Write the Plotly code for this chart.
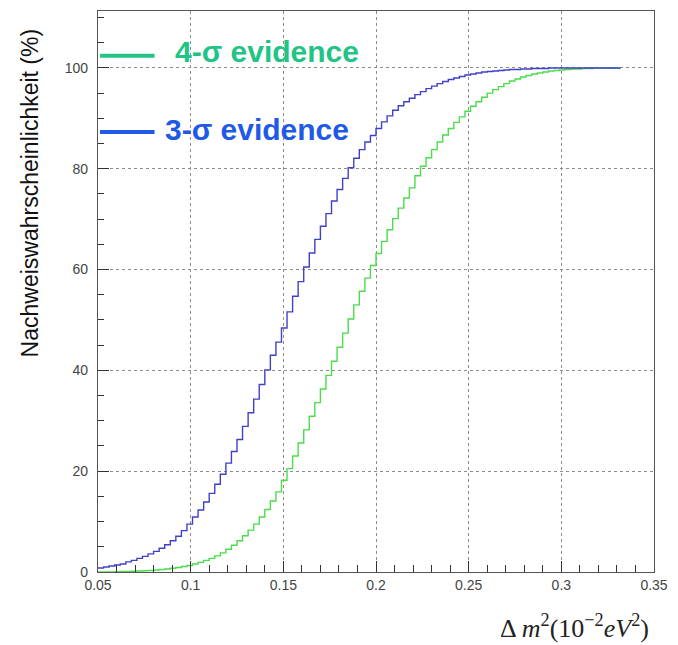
import numpy as np
import plotly.graph_objects as go

# Histogram binning (ROOT-style, 0.003 wide bins starting at 0.05)
x_start = 0.05
bin_width = 0.003

# Detection probability (%) per bin, 3-sigma evidence
prob_3sigma = [
    0.8, 1.0, 1.2, 1.4, 1.6, 2.0, 2.3, 2.7, 3.1, 3.6,
    4.1, 4.7, 5.4, 6.2, 7.1, 8.2, 9.5, 10.9, 12.3, 13.9,
    15.6, 17.4, 19.4, 21.6, 23.9, 26.3, 28.9, 31.6, 34.3, 37.2,
    40.1, 43.0, 45.6, 48.4, 51.6, 54.7, 57.6, 60.5, 63.3, 66.0,
    68.6, 71.1, 73.6, 75.9, 78.1, 80.2, 82.1, 83.8, 85.3, 86.6,
    88.0, 89.3, 90.5, 91.6, 92.5, 93.3, 94.0, 94.7, 95.3, 95.9,
    96.4, 96.9, 97.3, 97.7, 98.0, 98.3, 98.6, 98.8, 99.0, 99.2,
    99.3, 99.4, 99.5, 99.6, 99.7, 99.7, 99.8, 99.8, 99.9, 99.9,
    99.9, 100, 100, 100, 100, 100, 100, 100, 100, 100,
    100, 100, 100, 100,
]

# Detection probability (%) per bin, 4-sigma evidence
prob_4sigma = [
    0.0, 0.0, 0.0, 0.05, 0.1, 0.1, 0.15, 0.2, 0.25, 0.3,
    0.4, 0.5, 0.6, 0.75, 0.9, 1.1, 1.3, 1.6, 1.9, 2.3,
    2.7, 3.2, 3.8, 4.5, 5.3, 6.2, 7.2, 8.3, 9.5, 10.9,
    12.4, 14.1, 15.9, 18.2, 20.5, 23.0, 25.6, 28.2, 30.9, 33.6,
    36.3, 39.0, 41.8, 44.6, 47.4, 50.2, 53.0, 55.7, 58.3, 60.8,
    63.2, 65.6, 67.9, 70.1, 72.2, 74.2, 76.2, 78.6, 80.5, 82.2,
    83.8, 85.3, 86.7, 88.0, 89.2, 90.3, 91.4, 92.4, 93.3, 94.2,
    95.0, 95.7, 96.3, 96.9, 97.4, 97.8, 98.2, 98.5, 98.8, 99.0,
    99.2, 99.4, 99.5, 99.6, 99.7, 99.8, 99.8, 99.9, 99.9, 100,
    100, 100, 100, 100,
]

x_ticks = [0.05, 0.1, 0.15, 0.2, 0.25, 0.3, 0.35]
x_tick_labels = ["0.05", "0.1", "0.15", "0.2", "0.25", "0.3", "0.35"]
y_ticks = [0, 20, 40, 60, 80, 100]

legend_labels = ["4-σ evidence", "3-σ evidence"]

BLUE_HIST = "#4040c8"
GREEN_HIST = "#4cdc4c"
GREEN_TEXT = "#22c486"
BLUE_TEXT = "#1f5ae6"


def step_xy(values):
    edges = x_start + bin_width * np.arange(len(values) + 1)
    ys = list(values) + [values[-1]]
    return edges, ys


fig = go.Figure()

for vals, color in [(prob_4sigma, GREEN_HIST), (prob_3sigma, BLUE_HIST)]:
    xs, ys = step_xy(vals)
    fig.add_trace(go.Scatter(
        x=xs, y=ys, mode="lines", line_shape="hv",
        line=dict(color=color, width=1.4),
        showlegend=False, hoverinfo="skip",
    ))

# Hand-placed legend: thick line sample followed by bold coloured text
for color, yv in [(GREEN_TEXT, 102.4), (BLUE_TEXT, 87.3)]:
    fig.add_shape(type="line", xref="x", yref="y",
                  x0=0.0511, x1=0.0805, y0=yv, y1=yv,
                  line=dict(color=color, width=4))
fig.add_annotation(x=0.0905, y=103.2, xref="x", yref="y", text=legend_labels[0],
                   showarrow=False, xanchor="left", yanchor="middle",
                   font=dict(family="Liberation Sans, Arial", size=30, color=GREEN_TEXT,
                             weight="bold"))
fig.add_annotation(x=0.0850, y=87.8, xref="x", yref="y", text=legend_labels[1],
                   showarrow=False, xanchor="left", yanchor="middle",
                   font=dict(family="Liberation Sans, Arial", size=30, color=BLUE_TEXT,
                             weight="bold"))

# Axis titles
fig.add_annotation(x=0.995, y=-0.097, xref="paper", yref="paper",
                   text="Δ <i>m</i><sup>2</sup>(10<sup>−2</sup><i>eV</i><sup>2</sup>)",
                   showarrow=False, xanchor="right", yanchor="middle",
                   font=dict(family="Liberation Serif, Times New Roman", size=26, color="#222"))
fig.add_annotation(x=-0.123, y=0.676, xref="paper", yref="paper",
                   text="Nachweiswahrscheinlichkeit (%)", textangle=-90,
                   showarrow=False, xanchor="center", yanchor="middle",
                   font=dict(family="Liberation Sans, Arial", size=23, color="#111"))

axis_common = dict(
    showline=True, linecolor="#555", linewidth=1.2, mirror=True,
    ticks="inside", tickcolor="#333", tickwidth=1.2, ticklen=11,
    showgrid=True, gridcolor="#8c8c8c", griddash="dot", gridwidth=1,
    zeroline=False,
    tickfont=dict(family="Liberation Sans, Arial", size=14, color="#444"),
)

fig.update_xaxes(
    range=[0.05, 0.35], tickmode="array", tickvals=x_ticks, ticktext=x_tick_labels,
    minor=dict(dtick=0.01, tick0=0.05, ticks="inside", ticklen=7, tickcolor="#333",
               tickwidth=1.2, showgrid=False),
    **axis_common,
)
fig.update_yaxes(
    range=[0, 111.3], tickmode="array", tickvals=y_ticks,
    minor=dict(dtick=5, tick0=0, ticks="inside", ticklen=6, tickcolor="#333",
               tickwidth=1.2, showgrid=False),
    ticklabelstandoff=6,
    **axis_common,
)

fig.update_layout(
    width=678, height=645,
    margin=dict(l=98, r=20, t=10, b=73),
    paper_bgcolor="white", plot_bgcolor="white",
)

fig.write_html("out.html")
